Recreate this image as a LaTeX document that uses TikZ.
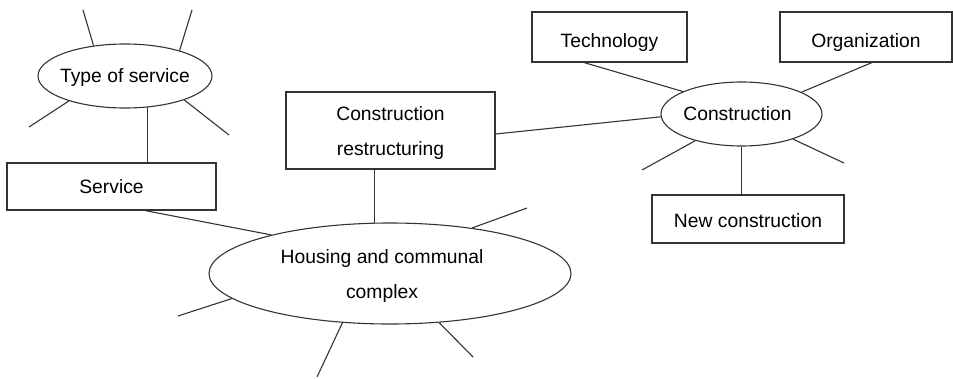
\documentclass[tikz,border=0pt]{standalone}
\usepackage{fontspec}
\setmainfont{Liberation Sans}
\usetikzlibrary{shapes.geometric}
\begin{document}
\begin{tikzpicture}[x=1pt,y=-1pt,
  every node/.style={font=\fontsize{19.3}{35}\selectfont, text=black},
  conn/.style={draw=black!80, line width=1.1pt},
  boxnode/.style={draw=black!80, line width=1.1pt, rectangle, inner sep=0pt},
  one/.style={text height=13.8pt, text depth=0pt},
  ellnode/.style={draw=black!80, line width=1.1pt, ellipse, inner sep=0pt},
]
\useasboundingbox (0,0) rectangle (953,378);

% nodes
\node[ellnode, one, minimum width=174pt, minimum height=64pt] (tos) at (125,76) {\makebox[0pt]{Type of service}};
\node[boxnode, one, minimum width=209pt, minimum height=47pt] (serv) at (111.5,186.5) {Service};
\node[boxnode, minimum width=209pt, minimum height=77pt] (restr) at (390.5,130.5) {\raisebox{-3.5pt}{\begin{tabular}{@{}c@{}}Construction\\restructuring\end{tabular}}};
\node[ellnode, minimum width=362pt, minimum height=101pt] (hc) at (390,273.5) {\makebox[0pt]{\hspace*{-16pt}\begin{tabular}{@{}c@{}}Housing and communal\\complex\end{tabular}}};
\node[ellnode, one, minimum width=161pt, minimum height=64pt] (con) at (741.5,114) {\makebox[0pt]{\hspace*{-8pt}Construction}};
\node[boxnode, one, text height=20.8pt, minimum width=155pt, minimum height=50pt] (tech) at (609.5,37) {Technology};
\node[boxnode, one, text height=20.8pt, minimum width=172pt, minimum height=50pt] (org) at (866,37) {Organization};
\node[boxnode, one, text height=17.8pt, minimum width=192pt, minimum height=48pt] (newc) at (748,219) {New construction};

% connectors
\draw[conn] (tos.-54.6) -- (tos.-54.6 |- serv.north);
\draw[conn] ([xshift=33.5pt]serv.south) -- (hc.162.6);
\draw[conn] (hc.107.6) -- (hc.107.6 |- restr.south);
\draw[conn] ([yshift=-3.5pt]restr.east) -- (con.182.1);
\draw[conn] ([xshift=-25.5pt]tech.south) -- (con.159.2);
\draw[conn] ([xshift=6pt]org.south) -- (con.20.5);
\draw[conn] (con.south) -- (con.south |- newc.north);

% free spoke ends
\coordinate (t1) at (83,10);
\coordinate (t2) at (192,10);
\coordinate (t3) at (29,127);
\coordinate (t4) at (229,135);
\coordinate (h1) at (527,208);
\coordinate (h2) at (178,316);
\coordinate (h3) at (317,377);
\coordinate (h4) at (473,357);
\coordinate (c1) at (642,170);
\coordinate (c2) at (844,163);

\draw[conn] (tos.136) -- (t1);
\draw[conn] (tos.25.3) -- (t2);
\draw[conn] (tos.-156.8) -- (t3);
\draw[conn] (tos.-22) -- (t4);
\draw[conn] (hc.29.8) -- (h1);
\draw[conn] (hc.-171.3) -- (h2);
\draw[conn] (hc.-134.1) -- (h3);
\draw[conn] (hc.-45.9) -- (h4);
\draw[conn] (con.-150.8) -- (c1);
\draw[conn] (con.-26.3) -- (c2);
\end{tikzpicture}
\end{document}
